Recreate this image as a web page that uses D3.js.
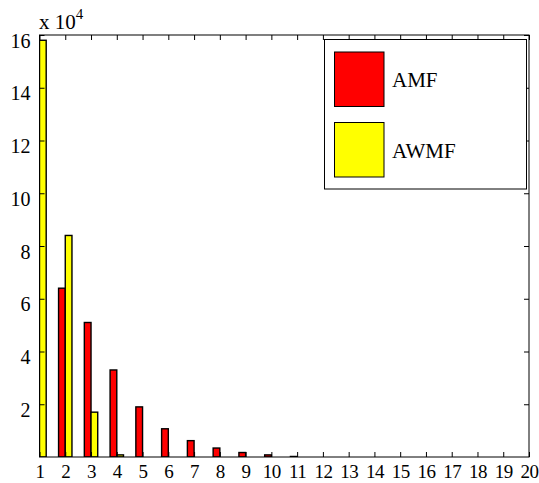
<!DOCTYPE html>
<html>
<head>
<meta charset="utf-8">
<script src="https://cdn.jsdelivr.net/npm/d3@7"></script>
<style>
  body { margin: 0; background: #fff; }
  svg { display: block; }
  svg text { font-family: "Liberation Serif", "Times New Roman", serif; fill: #000; }
</style>
</head>
<body>
<div class="board"></div>
<script>
// bar data (units of 10^4)
var categories = d3.range(1, 21);
var amf  = [0, 6.4, 5.1, 3.3, 1.9, 1.07, 0.62, 0.34, 0.17, 0.08, 0.02, 0, 0, 0, 0, 0, 0, 0, 0, 0];
var awmf = [15.8, 8.4, 1.7, 0.08, 0, 0, 0, 0, 0, 0, 0, 0, 0, 0, 0, 0, 0, 0, 0, 0];
var seriesNames = ['AMF', 'AWMF'];
var seriesColors = ['#ff0000', '#ffff00'];
var yTicks = [2, 4, 6, 8, 10, 12, 14, 16];

var width = 539, height = 483;
var plotLeft = 39.5, plotRight = 529, plotTop = 35, plotBottom = 457;

var svg = d3.select('.board')
            .append('svg')
            .attr('width', width)
            .attr('height', height);

var x = d3.scaleLinear().domain([1, 20]).range([plotLeft, plotRight]);
var y = d3.scaleLinear().domain([0, 16]).range([plotBottom, plotTop]);
var barW = x(1.26) - x(1);

// clip bars to the axes box
svg.append('clipPath').attr('id', 'plot')
   .append('rect')
   .attr('x', plotLeft).attr('y', plotTop)
   .attr('width', plotRight - plotLeft).attr('height', plotBottom - plotTop);

var bars = svg.append('g').attr('clip-path', 'url(#plot)');

bars.selectAll('rect.amf')
    .data(amf)
    .enter()
    .append('rect')
    .attr('class', 'amf')
    .attr('x', function(d, i) { return x(categories[i]) - barW; })
    .attr('y', function(d) { return y(d); })
    .attr('width', barW)
    .attr('height', function(d) { return plotBottom - y(d); })
    .style('fill', seriesColors[0])
    .style('stroke', '#000')
    .style('stroke-width', 1.4);

bars.selectAll('rect.awmf')
    .data(awmf)
    .enter()
    .append('rect')
    .attr('class', 'awmf')
    .attr('x', function(d, i) { return x(categories[i]); })
    .attr('y', function(d) { return y(d); })
    .attr('width', barW)
    .attr('height', function(d) { return plotBottom - y(d); })
    .style('fill', seriesColors[1])
    .style('stroke', '#000')
    .style('stroke-width', 1.4);

// axes with inward ticks, like a matlab box
var xAxis = svg.append('g')
   .attr('transform', 'translate(0,' + plotBottom + ')')
   .call(d3.axisBottom(x).tickValues(categories).tickFormat(d3.format('d'))
         .tickSizeInner(-5).tickSizeOuter(0).tickPadding(8));
xAxis.selectAll('text').style('font-size', '19px').style('letter-spacing', '-0.5px');

svg.append('g')
   .attr('transform', 'translate(0,' + plotTop + ')')
   .call(d3.axisTop(x).tickValues(categories).tickFormat('')
         .tickSizeInner(-5).tickSizeOuter(0));

var yAxis = svg.append('g')
   .attr('transform', 'translate(' + plotLeft + ',0)')
   .call(d3.axisLeft(y).tickValues(yTicks).tickFormat(d3.format('d'))
         .tickSizeInner(-5).tickSizeOuter(0).tickPadding(9));
yAxis.selectAll('text').style('font-size', '20px').attr('dy', '0.6em');

svg.append('g')
   .attr('transform', 'translate(' + plotRight + ',0)')
   .call(d3.axisRight(y).tickValues(yTicks).tickFormat('')
         .tickSizeInner(-5).tickSizeOuter(0));

svg.selectAll('.domain').remove();
svg.selectAll('.tick line').style('stroke', '#000');

svg.append('rect')
   .attr('x', plotLeft).attr('y', plotTop)
   .attr('width', plotRight - plotLeft).attr('height', plotBottom - plotTop)
   .style('fill', 'none')
   .style('stroke', '#000')
   .style('stroke-width', 1);

// exponent label
var expo = svg.append('text')
   .attr('x', 39)
   .attr('y', 29)
   .style('font-size', '21px');
expo.append('tspan').text('x 10');
expo.append('tspan').attr('dy', -10).style('font-size', '15px').text('4');

// legend
var legend = svg.append('g');
legend.append('rect')
      .attr('x', 324.5).attr('y', 39.5)
      .attr('width', 202).attr('height', 149.5)
      .style('fill', '#fff')
      .style('stroke', '#000')
      .style('stroke-width', 1);

var items = legend.selectAll('g.item')
      .data(seriesNames)
      .enter()
      .append('g')
      .attr('class', 'item')
      .attr('transform', function(d, i) { return 'translate(0,' + (i * 70.5) + ')'; });

items.append('rect')
     .attr('x', 334.5).attr('y', 52)
     .attr('width', 49.5).attr('height', 54.5)
     .style('fill', function(d, i) { return seriesColors[i]; })
     .style('stroke', '#000')
     .style('stroke-width', 1);

items.append('text')
     .attr('x', 392)
     .attr('y', 87)
     .style('font-size', '21px')
     .text(function(d) { return d; });
</script>
</body>
</html>
